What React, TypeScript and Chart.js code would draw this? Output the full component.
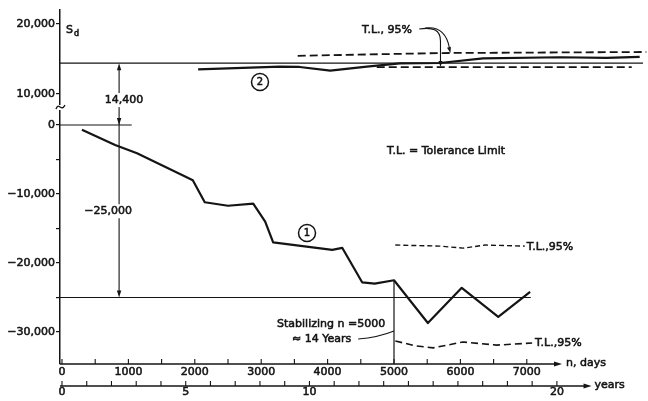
import { useEffect, useRef } from 'react';
import { Chart, registerables } from 'chart.js';

Chart.register(...registerables);

const FONT = '"DejaVu Sans", "Liberation Sans", sans-serif';
const INK = '#141414';
const TEXT_STROKE = 0.55;

// n, days axis
const dayTicks = [0, 1000, 2000, 3000, 4000, 5000, 6000, 7000];
const dayMinorStep = 500;
const dayMin = -30;
const dayMax = 8780;
const dayAxisEnd = 7530;

// years axis
const yearTicks = [0, 5, 10, 20];
const yearLast = 20;
const yearMin = -0.08;
const yearMax = 23.56;
const yearAxisEnd = 21.4;

// S_d axis, split by a break into an upper and a lower band
const upperSdTicks = [10000, 20000];
const upperSdMin = 8140;
const upperSdMax = 22000;
const lowerSdTicks = [-30000, -25000, -20000, -15000, -10000, -5000, 0];
const lowerSdMin = -34640;
const lowerSdMax = 2610;

// Curve 1
const curve1Days = [300, 800, 1130, 1800, 1970, 2150, 2500, 2880, 3060, 3180, 4070, 4220, 4520, 4710, 5000, 5510, 6020, 6570, 7050];
const curve1Sd = [-700, -2900, -4100, -7200, -8000, -11200, -11700, -11400, -14000, -17000, -18100, -17800, -22800, -23000, -22500, -28700, -23600, -27800, -24200];

// Curve 2
const curve2Days = [2050, 3280, 3580, 4040, 4590, 5090, 5690, 6340, 7500, 8200, 8700];
const curve2Sd = [13530, 13900, 13860, 13330, 13900, 14360, 14430, 15100, 15250, 15150, 15300];

// 95% tolerance limits around curve 2
const tl2UpperDays = [3550, 5700, 8800];
const tl2UpperSd = [15450, 15850, 16000];
const tl2LowerDays = [4740, 8580];
const tl2LowerSd = [13850, 13850];

// 95% tolerance limits around curve 1
const tl1UpperDays = [5020, 5690, 6040, 6370, 6970];
const tl1UpperSd = [-17400, -17550, -17850, -17400, -17550];
const tl1LowerDays = [5020, 5320, 5590, 6040, 6550, 7080];
const tl1LowerSd = [-31300, -32000, -32300, -31450, -31900, -31600];

// Reference levels and markers
const level2Sd = 14400;
const level2Span = [dayMin, 8750];
const level1Sd = -25000;
const level1Span = [dayMin, 7060];
const zeroSpan = [dayMin, 1050];
const stabilizingDay = 5000;
const stabilizingSd = -22500;
const dimensionDay = 860;

const toPoints = (xs: number[], ys: number[]) => xs.map((x, i) => ({ x, y: ys[i] }));

const interp = (xs: number[], ys: number[], x: number) => {
  for (let i = 1; i < xs.length; i++) {
    if (x <= xs[i]) {
      const t = (x - xs[i - 1]) / (xs[i] - xs[i - 1]);
      return ys[i - 1] + t * (ys[i] - ys[i - 1]);
    }
  }
  return ys[ys.length - 1];
};

const fmtSd = (v: number) => {
  const s = Math.abs(v).toLocaleString('en-US');
  return v < 0 ? '\u2212' + s : s;
};

const lineSet = (data: { x: number; y: number }[], yAxisID: string, width: number, dash: number[] = []) => ({
  data,
  xAxisID: 'x',
  yAxisID,
  borderColor: INK,
  borderWidth: width,
  borderDash: dash,
  pointRadius: 0,
  tension: 0,
  fill: false,
  clip: false as const,
  borderJoinStyle: 'round' as const,
});

function seg(ctx: CanvasRenderingContext2D, x1: number, y1: number, x2: number, y2: number) {
  ctx.beginPath();
  ctx.moveTo(x1, y1);
  ctx.lineTo(x2, y2);
  ctx.stroke();
}

function arrow(ctx: CanvasRenderingContext2D, x: number, y: number, angle: number, len = 6, half = 2.2) {
  ctx.save();
  ctx.translate(x, y);
  ctx.rotate(angle);
  ctx.beginPath();
  ctx.moveTo(0, 0);
  ctx.lineTo(-len, -half);
  ctx.lineTo(-len, half);
  ctx.closePath();
  ctx.fill();
  ctx.restore();
}

function text(
  ctx: CanvasRenderingContext2D,
  s: string,
  x: number,
  y: number,
  align: CanvasTextAlign = 'left',
  size = 11,
  bg = false,
) {
  ctx.font = `${size}px ${FONT}`;
  ctx.textAlign = align;
  ctx.textBaseline = 'middle';
  if (bg) {
    const w = ctx.measureText(s).width;
    const left = align === 'center' ? x - w / 2 : align === 'right' ? x - w : x;
    ctx.save();
    ctx.fillStyle = '#fff';
    ctx.fillRect(left - 2, y - 7, w + 4, 14);
    ctx.restore();
  }
  ctx.fillText(s, x, y);
  ctx.save();
  ctx.lineWidth = TEXT_STROKE;
  ctx.strokeText(s, x, y);
  ctx.restore();
}

function circled(ctx: CanvasRenderingContext2D, s: string, x: number, y: number) {
  ctx.save();
  ctx.lineWidth = 1.5;
  ctx.beginPath();
  ctx.arc(x, y, 8.5, 0, Math.PI * 2);
  ctx.stroke();
  ctx.restore();
  text(ctx, s, x, y + 0.5, 'center', 10);
}

const annotate = {
  id: 'annotate',
  afterDatasetsDraw(chart: Chart) {
    const { ctx } = chart;
    const sx = chart.scales.x;
    const sy = chart.scales.years;
    const yT = chart.scales.yTop;
    const yB = chart.scales.yBot;
    const X = (d: number) => sx.getPixelForValue(d);
    const Yr = (v: number) => sy.getPixelForValue(v);
    const T = (v: number) => yT.getPixelForValue(v);
    const B = (v: number) => yB.getPixelForValue(v);

    ctx.save();
    ctx.strokeStyle = INK;
    ctx.fillStyle = INK;

    // n, days axis with inward ticks
    const dayY = sx.top;
    const dayEnd = X(dayAxisEnd);
    ctx.lineWidth = 1.5;
    seg(ctx, sx.left, dayY, dayEnd - 4, dayY);
    arrow(ctx, dayEnd, dayY, 0, 8, 2.5);
    ctx.lineWidth = 1.1;
    for (let d = 0; d <= dayTicks[dayTicks.length - 1]; d += dayMinorStep) seg(ctx, X(d), dayY, X(d), dayY - 5);
    text(ctx, 'n, days', dayEnd + 4, dayY - 1);

    // years axis with yearly ticks
    const yrY = sy.top;
    const yrEnd = Yr(yearAxisEnd);
    ctx.lineWidth = 1.5;
    seg(ctx, sy.left, yrY, yrEnd - 4, yrY);
    arrow(ctx, yrEnd, yrY, 0, 8, 2.5);
    ctx.lineWidth = 1.1;
    for (let v = 0; v <= yearLast; v++) seg(ctx, Yr(v), yrY, Yr(v), yrY - 5);
    text(ctx, 'years', yrEnd + 3, yrY - 1);

    // axis break between the two S_d bands
    const brk = yT.bottom;
    const ax = yT.right;
    ctx.save();
    ctx.fillStyle = '#fff';
    ctx.fillRect(ax - 2, brk - 2, 4, 5);
    ctx.restore();
    ctx.lineWidth = 1.4;
    ctx.beginPath();
    ctx.moveTo(ax - 4, brk + 2);
    ctx.bezierCurveTo(ax - 1, brk - 6, ax + 1, brk + 6, ax + 5, brk - 2);
    ctx.stroke();

    // S_d axis title
    text(ctx, 'S', X(60), T(19150), 'left', 11);
    text(ctx, 'd', X(60) + 8, T(19150) + 4, 'left', 8);

    // dimension line from 0 up to 14,400 and down to -25,000
    const dx = X(dimensionDay);
    const yHi = T(level2Sd);
    const y0 = B(0);
    const yLo = B(level1Sd);
    ctx.lineWidth = 1.1;
    seg(ctx, dx, yHi + 4, dx, yLo - 4);
    arrow(ctx, dx, yHi, -Math.PI / 2, 7, 2.2);
    arrow(ctx, dx, y0, Math.PI / 2, 7, 2.2);
    arrow(ctx, dx, yLo, Math.PI / 2, 7, 2.2);
    text(ctx, level2Sd.toLocaleString('en-US'), dx + 5, (yHi + y0) / 2 + 6, 'center', 11, true);
    text(ctx, fmtSd(level1Sd), dx - 11, (y0 + yLo) / 2, 'center', 11, true);

    // curve labels
    circled(ctx, '1', X(3690), B(-15650));
    circled(ctx, '2', X(2982), T(11714));

    // legend note
    text(ctx, 'T.L. = Tolerance Limit', X(4895), B(-3770));

    // tolerance-limit tags
    const u1x = tl1UpperDays[tl1UpperDays.length - 1];
    const u1y = tl1UpperSd[tl1UpperSd.length - 1];
    text(ctx, 'T.L.,95%', X(u1x) + 2, B(u1y) + 1);
    const l1x = tl1LowerDays[tl1LowerDays.length - 1];
    const l1y = tl1LowerSd[tl1LowerSd.length - 1];
    text(ctx, 'T.L.,95%', X(l1x) + 3, B(l1y));

    // top tag with two leaders to curve 2 limits
    const tagY = T(19150);
    text(ctx, 'T.L., 95%', X(4518), tagY);
    const sx0 = X(5380);
    const sy0 = T(19290);
    const ax1 = X(5700);
    const ay1 = T(interp(tl2LowerDays, tl2LowerSd, 5700));
    const ax2 = X(5850);
    const ay2 = T(interp(tl2UpperDays, tl2UpperSd, 5850));
    ctx.lineWidth = 1.1;
    ctx.beginPath();
    ctx.moveTo(sx0, sy0);
    ctx.bezierCurveTo(sx0 + 14, sy0 - 2, ax1, sy0 + 1, ax1, sy0 + 12);
    ctx.lineTo(ax1, ay1 - 5);
    ctx.stroke();
    arrow(ctx, ax1, ay1, Math.PI / 2, 6, 2);
    ctx.beginPath();
    ctx.moveTo(sx0 + 6, sy0 - 1);
    ctx.bezierCurveTo(sx0 + 22, sy0 - 3, ax2 - 3, sy0 + 8, ax2 - 1, ay2 - 5);
    ctx.stroke();
    arrow(ctx, ax2, ay2, Math.PI / 2 - 0.25, 6, 2);

    // stabilizing note
    text(ctx, 'Stabilizing n =5000', X(3238), B(-28840));
    text(ctx, '\u2248 14 Years', X(3464), B(-31015));
    ctx.lineWidth = 1.1;
    ctx.beginPath();
    ctx.moveTo(X(4460), B(-31015));
    ctx.quadraticCurveTo(X(4760), B(-30800), X(stabilizingDay), B(-29860));
    ctx.stroke();

    ctx.restore();
  },
};

const tickFont = { family: FONT, size: 11 };
const tickText = { font: tickFont, color: INK, textStrokeColor: INK, textStrokeWidth: TEXT_STROKE };

export default function App() {
  const ref = useRef<HTMLCanvasElement>(null);

  useEffect(() => {
    document.body.style.margin = '0';
    const chart = new Chart(ref.current!, {
      type: 'line',
      data: {
        datasets: [
          lineSet(toPoints(curve1Days, curve1Sd), 'yBot', 2.2),
          lineSet(toPoints(curve2Days, curve2Sd), 'yTop', 2.2),
          lineSet(toPoints(tl2UpperDays, tl2UpperSd), 'yTop', 1.8, [8, 4]),
          lineSet(toPoints(tl2LowerDays, tl2LowerSd), 'yTop', 1.8, [8, 4]),
          lineSet(toPoints(tl1UpperDays, tl1UpperSd), 'yBot', 1.4, [5, 3]),
          lineSet(toPoints(tl1LowerDays, tl1LowerSd), 'yBot', 1.6, [7, 4]),
          lineSet(toPoints(level2Span, [level2Sd, level2Sd]), 'yTop', 1.2),
          lineSet(toPoints(level1Span, [level1Sd, level1Sd]), 'yBot', 1.2),
          lineSet(toPoints(zeroSpan, [0, 0]), 'yBot', 1.2),
          lineSet(toPoints([stabilizingDay, stabilizingDay], [lowerSdMin, stabilizingSd]), 'yBot', 1.2),
        ],
      },
      options: {
        responsive: false,
        animation: false,
        devicePixelRatio: 1,
        events: [],
        layout: { padding: { top: 10, right: 3, bottom: 0, left: 0 } },
        plugins: { legend: { display: false }, tooltip: { enabled: false } },
        scales: {
          x: {
            type: 'linear',
            position: 'bottom',
            min: dayMin,
            max: dayMax,
            afterBuildTicks: (s: any) => {
              s.ticks = dayTicks.map((value) => ({ value }));
            },
            afterFit: (s: any) => {
              s.height = 22;
            },
            grid: { display: false, drawTicks: false },
            border: { display: false },
            ticks: { autoSkip: false, maxRotation: 0, padding: 2, ...tickText, callback: (v: any) => String(v) },
          },
          years: {
            type: 'linear',
            position: 'bottom',
            min: yearMin,
            max: yearMax,
            afterBuildTicks: (s: any) => {
              s.ticks = yearTicks.map((value) => ({ value }));
            },
            afterFit: (s: any) => {
              s.height = 15;
            },
            grid: { display: false, drawTicks: false },
            border: { display: false },
            ticks: { autoSkip: false, maxRotation: 0, padding: 0, ...tickText, callback: (v: any) => String(v) },
          },
          yBot: {
            type: 'linear',
            position: 'left',
            stack: 'sd',
            stackWeight: 257,
            min: lowerSdMin,
            max: lowerSdMax,
            afterBuildTicks: (s: any) => {
              s.ticks = lowerSdTicks.map((value) => ({ value }));
            },
            afterFit: (s: any) => {
              s.width = 60;
            },
            grid: { display: true, drawOnChartArea: false, drawTicks: true, tickLength: 4, color: INK, lineWidth: 1.2 },
            border: { display: true, color: INK, width: 1.5 },
            ticks: {
              autoSkip: false,
              padding: 1,
              ...tickText,
              callback: (v: any) => (Number(v) % 10000 === 0 ? fmtSd(Number(v)) : ''),
            },
          },
          yTop: {
            type: 'linear',
            position: 'left',
            stack: 'sd',
            stackWeight: 97,
            min: upperSdMin,
            max: upperSdMax,
            afterBuildTicks: (s: any) => {
              s.ticks = upperSdTicks.map((value) => ({ value }));
            },
            afterFit: (s: any) => {
              s.width = 60;
            },
            grid: { display: true, drawOnChartArea: false, drawTicks: true, tickLength: 4, color: INK, lineWidth: 1.2 },
            border: { display: true, color: INK, width: 1.5 },
            ticks: { autoSkip: false, padding: 1, ...tickText, callback: (v: any) => fmtSd(Number(v)) },
          },
        },
      } as any,
      plugins: [annotate],
    });
    return () => chart.destroy();
  }, []);

  return (
    <div style={{ width: 648, height: 401, background: '#fff' }}>
      <canvas ref={ref} width={648} height={401} style={{ display: 'block' }} />
    </div>
  );
}
